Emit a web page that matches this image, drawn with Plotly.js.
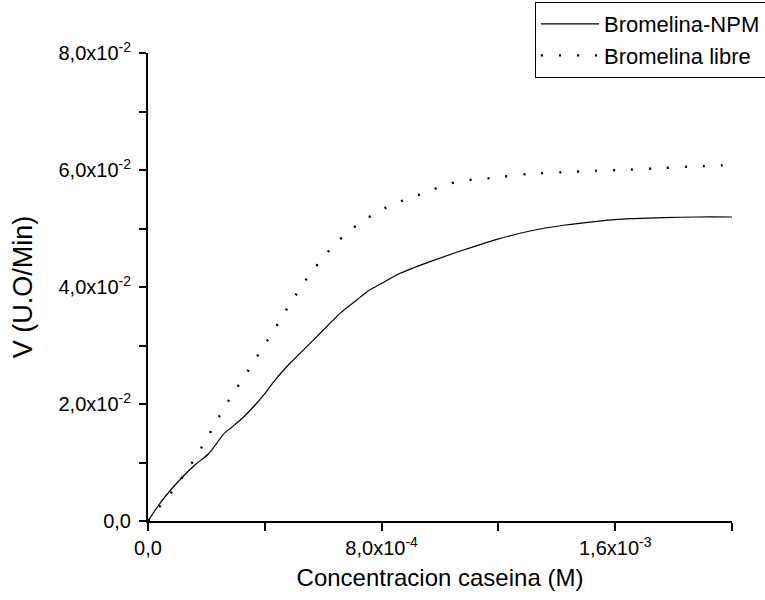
<!DOCTYPE html>
<html>
<head>
<meta charset="utf-8">
<script src="https://cdn.plot.ly/plotly-3.0.1.min.js"></script>
<style>html,body{margin:0;padding:0;background:#fff}#chart{width:765px;height:600px}</style>
</head>
<body>
<div id="chart"></div>
<script>
// Series: Bromelina-NPM (solid)
var conc_npm = [0, 4.11e-5, 7.78e-5, 1.189e-4, 1.576e-4, 2.066e-4, 2.354e-4, 2.580e-4, 2.868e-4, 3.265e-4,
  3.666e-4, 4.008e-4, 4.351e-4, 4.865e-4, 5.437e-4, 6.006e-4, 6.578e-4, 7.15e-4, 7.537e-4, 7.948e-4,
  8.634e-4, 9.661e-4, 1.0803e-3, 1.1947e-3, 1.3088e-3, 1.4229e-3, 1.5372e-3, 1.6513e-3, 1.7654e-3, 1.8798e-3, 2.0e-3];
var v_npm = [0, 0.00303, 0.0053, 0.00757, 0.00945, 0.01145, 0.01328, 0.01482, 0.01602, 0.01773,
  0.01983, 0.02183, 0.0241, 0.02696, 0.0298, 0.03265, 0.0355, 0.03778, 0.03932, 0.04046,
  0.04234, 0.04433, 0.04632, 0.04815, 0.04957, 0.05055, 0.05123, 0.05168, 0.05185, 0.05197, 0.05197];

// Series: Bromelina libre (dotted)
var conc_libre = [0, 2.98e-5, 7.78e-5, 1.189e-4, 1.576e-4, 1.929e-4, 2.261e-4, 2.593e-4, 2.957e-4, 3.334e-4,
  3.700e-4, 4.077e-4, 4.444e-4, 4.796e-4, 5.173e-4, 5.55e-4, 5.961e-4, 6.372e-4, 6.818e-4, 7.297e-4,
  7.811e-4, 8.383e-4, 8.952e-4, 9.534e-4, 1.0117e-3, 1.0689e-3, 1.1271e-3, 1.1854e-3, 1.3008e-3, 1.4173e-3,
  1.5325e-3, 1.6490e-3, 1.7644e-3, 1.8809e-3, 2.0e-3];
var v_libre = [0, 0.00188, 0.00473, 0.00757, 0.01048, 0.01338, 0.01629, 0.0192, 0.0221, 0.02496,
  0.02786, 0.03077, 0.03368, 0.03658, 0.03949, 0.04222, 0.04479, 0.04718, 0.04923, 0.05111,
  0.05265, 0.05414, 0.05516, 0.05624, 0.05732, 0.05812, 0.05841, 0.05868, 0.05932, 0.05961,
  0.05988, 0.06005, 0.06034, 0.06063, 0.06085];

var series_names = ["Bromelina-NPM", "Bromelina libre"];

// Axis ticks (labelled) and unlabelled minor ticks
var x_tickvals = [0, 8e-4, 1.6e-3];
var x_ticktext = ["0,0", "8,0x10<sup>-4</sup>", "1,6x10<sup>-3</sup>"];
var x_minorvals = [4e-4, 1.2e-3, 2.0e-3];
var y_tickvals = [0, 0.02, 0.04, 0.06, 0.08];
var y_ticktext = ["0,0", "2,0x10<sup>-2</sup>", "4,0x10<sup>-2</sup>", "6,0x10<sup>-2</sup>", "8,0x10<sup>-2</sup>"];
var y_minorvals = [0.01, 0.03, 0.05, 0.07];

var FONT = "Liberation Sans, Arial, sans-serif";

var traces = [
  {x: conc_npm, y: v_npm, name: series_names[0], type: "scatter", mode: "lines",
   line: {color: "#000", width: 1.2, shape: "spline", smoothing: 0.8}},
  {x: conc_libre, y: v_libre, name: series_names[1], type: "scatter", mode: "lines",
   line: {color: "#000", width: 2.4, shape: "spline", smoothing: 0.8, dash: "2px,16px"}}
];

var layout = {
  width: 765, height: 600,
  margin: {l: 148, r: 33, t: 53, b: 79, autoexpand: false},
  paper_bgcolor: "#fff", plot_bgcolor: "#fff",
  font: {family: FONT, color: "#000", size: 20},
  showlegend: true,
  legend: {xref: "container", yref: "container", x: 535 / 765, y: 1 - 2 / 600,
    xanchor: "left", yanchor: "top",
    bordercolor: "#000", borderwidth: 1, bgcolor: "#fff",
    font: {family: FONT, size: 22, color: "#000"}, tracegroupgap: 0, itemwidth: 58},
  xaxis: {
    range: [0, 0.002], showgrid: false, zeroline: false,
    showline: true, linecolor: "#000", linewidth: 2,
    ticks: "outside", ticklen: 8, tickwidth: 2, tickcolor: "#000",
    tickmode: "array", tickvals: x_tickvals, ticktext: x_ticktext,
    minor: {tickmode: "array", tickvals: x_minorvals, ticks: "outside", ticklen: 8, tickwidth: 2, tickcolor: "#000", showgrid: false},
    tickfont: {family: FONT, size: 20, color: "#000"},
    title: {text: "Concentracion caseina (M)", font: {family: FONT, size: 24, color: "#000"}, standoff: 11}
  },
  yaxis: {
    range: [0, 0.08], showgrid: false, zeroline: false,
    showline: true, linecolor: "#000", linewidth: 2,
    ticks: "outside", ticklen: 7, tickwidth: 2, tickcolor: "#000",
    tickmode: "array", tickvals: y_tickvals, ticktext: y_ticktext,
    minor: {tickmode: "array", tickvals: y_minorvals, ticks: "outside", ticklen: 7, tickwidth: 2, tickcolor: "#000", showgrid: false},
    ticklabelstandoff: 4,
    tickfont: {family: FONT, size: 20, color: "#000"},
    title: {text: "V (U.O/Min)", font: {family: FONT, size: 27, color: "#000"}, standoff: 18}
  }
};

Plotly.newPlot("chart", traces, layout, {displayModeBar: false, staticPlot: true});
</script>
</body>
</html>
